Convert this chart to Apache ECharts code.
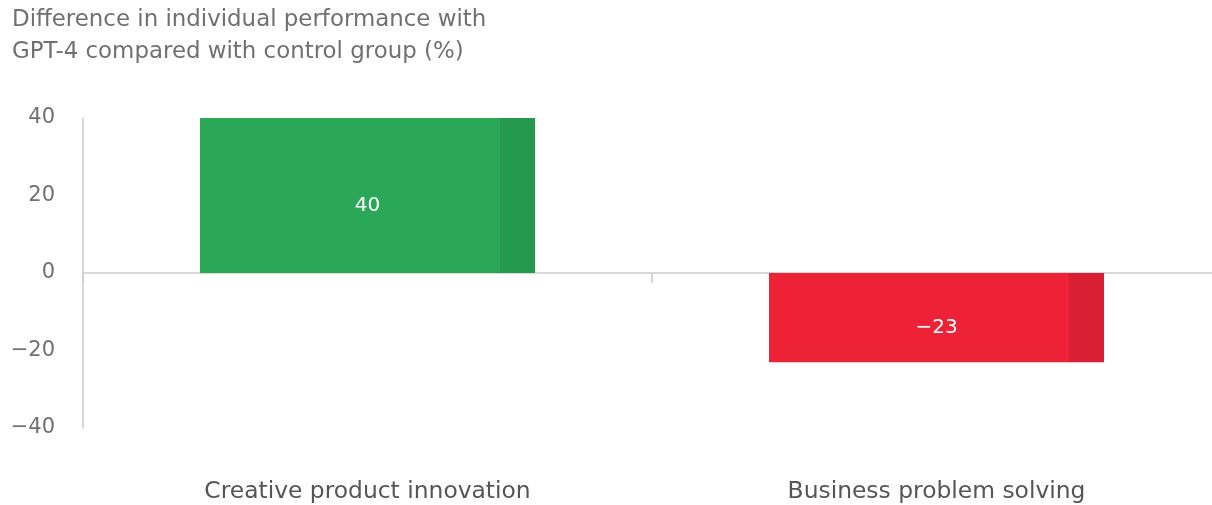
<!DOCTYPE html>
<html>
<head>
<meta charset="utf-8">
<script src="https://cdn.jsdelivr.net/npm/echarts@6/dist/echarts.min.js"></script>
<style>
  html, body { margin: 0; padding: 0; background: #fff; }
  #chart { width: 1212px; height: 505px; }
</style>
</head>
<body>
<div id="chart"></div>
<script>
// data
const categories = ["Creative product innovation", "Business problem solving"];
const values = [40, -23];
const yTicks = [-40, -20, 0, 20, 40];

// bar colours (main face, darker right strip)
const barColors = [
  ["#2aa858", "#259a4e"],
  ["#ed2236", "#d81f33"]
];

function minus(v) {
  return String(v).replace("-", "\u2212");
}

let myChart = echarts.init(document.getElementById("chart"));
let options = {
  animation: false,
  textStyle: { fontFamily: "DejaVu Sans" },
  title: {
    text: "Difference in individual performance with\nGPT-4 compared with control group (%)",
    left: 12,
    top: 4,
    padding: 0,
    textStyle: {
      fontSize: 22.9,
      fontWeight: "normal",
      color: "#707070",
      lineHeight: 32,
      fontFamily: "DejaVu Sans"
    }
  },
  grid: {
    left: 83,
    width: 1138,
    top: 118,
    bottom: 77,
    outerBoundsMode: "none"
  },
  xAxis: [
    {
      // labels at the bottom
      type: "category",
      data: categories,
      position: "bottom",
      axisLine: { show: false, onZero: false },
      axisTick: { show: false },
      axisLabel: {
        color: "#555",
        fontSize: 23.4,
        margin: 52
      }
    },
    {
      // line through zero
      type: "category",
      data: categories,
      position: "bottom",
      axisLine: { show: true, onZero: true, lineStyle: { color: "#cccccc", width: 1.5 } },
      axisTick: { show: true, length: 10, lineStyle: { color: "#cccccc", width: 1.5 } },
      axisLabel: { show: false }
    }
  ],
  yAxis: {
    type: "value",
    min: yTicks[0],
    max: yTicks[yTicks.length - 1],
    interval: 20,
    axisLine: { show: true, lineStyle: { color: "#cccccc", width: 1.5 } },
    axisTick: { show: false },
    splitLine: { show: false },
    axisLabel: {
      color: "#707070",
      fontSize: 21,
      margin: 28,
      formatter: function (v) { return minus(v); }
    }
  },
  series: [
    {
      type: "bar",
      xAxisIndex: 0,
      barWidth: 335,
      data: values.map(function (v, i) {
        return {
          value: v,
          itemStyle: {
            color: new echarts.graphic.LinearGradient(0, 0, 1, 0, [
              { offset: 0, color: barColors[i][0] },
              { offset: 0.895, color: barColors[i][0] },
              { offset: 0.896, color: barColors[i][1] },
              { offset: 1, color: barColors[i][1] }
            ])
          }
        };
      }),
      label: {
        show: true,
        position: "inside",
        color: "#fff",
        fontSize: 20,
        offset: [0, 10],
        formatter: function (p) { return minus(p.value); }
      }
    }
  ]
};
myChart.setOption(options);
</script>
</body>
</html>
